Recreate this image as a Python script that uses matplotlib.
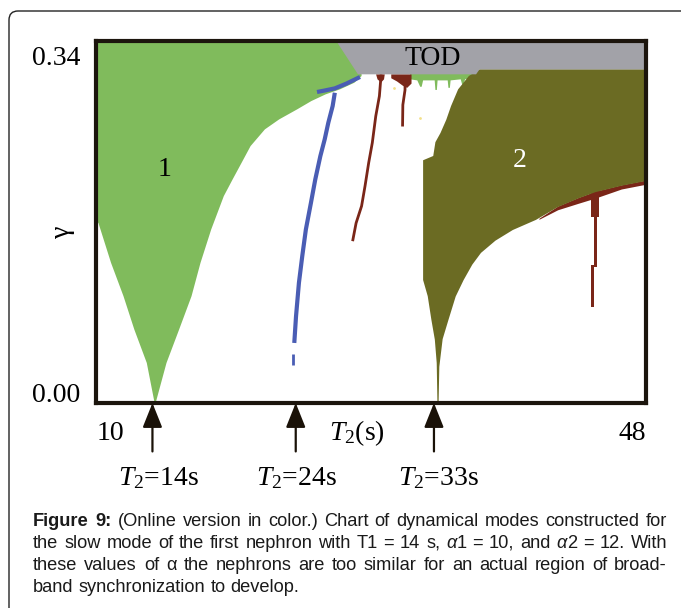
import matplotlib
matplotlib.use('Agg')
import matplotlib.pyplot as plt
from matplotlib.patches import FancyBboxPatch
from matplotlib.transforms import IdentityTransform

plt.rcParams['mathtext.fontset'] = 'custom'
plt.rcParams['mathtext.rm'] = 'Liberation Serif'
plt.rcParams['mathtext.it'] = 'Liberation Serif:italic'

# ---------------- data (T2 in s, gamma) ----------------
x_range = [10, 48]
y_range = [0.0, 0.34]

# region 1 (green)
green_left_T = [10.0, 10.0, 10.17, 11.04, 11.9, 12.65, 13.51, 14.05]
green_left_g = [0.34, 0.171, 0.169, 0.1316, 0.1003, 0.0689, 0.0376, 0.0]
green_right_T = [14.12, 14.87, 15.74, 16.6, 17.22, 17.96, 18.83, 19.44, 20.06,
                 20.68, 21.67, 22.66, 23.9, 24.88, 25.87, 26.86, 27.85, 28.35]
green_right_g = [0.0, 0.0376, 0.0689, 0.1003, 0.1316, 0.163, 0.1943, 0.21, 0.2256,
                 0.2413, 0.257, 0.2664, 0.2758, 0.2836, 0.2899, 0.2946, 0.3008, 0.3071]

# thin green strip under TOD
strip_T = [31.7, 31.7, 32.2, 32.4, 32.5, 32.6, 33.4, 33.45, 33.55, 33.6, 34.3, 34.35,
           34.45, 34.5, 35.2, 35.3, 35.4, 35.5, 36.3, 36.3]
strip_g = [0.312, 0.304, 0.303, 0.297, 0.297, 0.303, 0.303, 0.294, 0.294, 0.303, 0.303,
           0.296, 0.296, 0.303, 0.304, 0.299, 0.299, 0.304, 0.306, 0.312]

# TOD (gray)
tod_T = [26.6, 28.1, 36.26, 36.5, 48.0, 48.0]
tod_g = [0.34, 0.3087, 0.3087, 0.3134, 0.3134, 0.34]

# region 2 (olive)
olive_left_T = [36.5, 35.76, 35.02, 34.53, 34.2, 33.8, 33.45, 33.3, 32.6, 32.6,
                32.92, 33.17, 33.41, 33.54, 33.59]
olive_left_g = [0.3134, 0.3071, 0.2946, 0.2789, 0.266, 0.2536, 0.245, 0.232, 0.228,
                0.1155, 0.1003, 0.0783, 0.0595, 0.0376, 0.0]
olive_low_T = [33.67, 33.72, 33.95, 34.35, 34.85, 35.4, 36.0, 36.6, 37.6, 38.8,
               40.4, 41.9, 43.3, 44.5, 46.3, 48.0]
olive_low_g = [0.0, 0.034, 0.06, 0.078, 0.1, 0.1155, 0.13, 0.141, 0.1525, 0.1625,
               0.172, 0.184, 0.192, 0.198, 0.204, 0.2085]

# brown band under region 2 and its drip
band_T = [40.6, 41.9, 43.3, 44.5, 46.3, 48.0]
band_upper = [0.1735, 0.185, 0.193, 0.199, 0.205, 0.2095]
band_lower = [0.1725, 0.1815, 0.1875, 0.1925, 0.2010, 0.2055]
drip_g_lo = [0.175, 0.128, 0.090]
drip_g_hi = [0.199, 0.176, 0.130]
drip_T_lo = [44.2, 44.38, 44.22]
drip_T_hi = [44.75, 44.62, 44.42]

# blue line
blue_T = [23.7, 23.82, 24.02, 24.25, 24.5, 24.85, 25.15, 25.5, 25.8, 26.05, 26.35, 26.5]
blue_g = [0.0564, 0.0815, 0.1128, 0.1379, 0.163, 0.188, 0.21, 0.2319, 0.2476,
          0.2632, 0.2789, 0.2914]
blue_hook_T = [25.27, 25.8, 26.5, 27.3, 28.24]
blue_hook_g = [0.2921, 0.2935, 0.2955, 0.300, 0.3062]
blue_seg_T = [23.62, 23.62]
blue_seg_g = [0.036, 0.046]

# brown lines
brown1_T = [27.73, 27.97, 28.35, 28.59, 28.84, 29.09, 29.33, 29.58, 29.7]
brown1_g = [0.152, 0.169, 0.185, 0.204, 0.2256, 0.2444, 0.2695, 0.2883, 0.3087]
blob1_T = [29.35, 29.95, 29.9, 29.7, 29.45]
blob1_g = [0.3087, 0.3087, 0.304, 0.301, 0.304]
brown2_T = [31.18, 31.2, 31.35, 31.35]
brown2_g = [0.2597, 0.28, 0.294, 0.30]
blob2_T = [30.4, 31.8, 31.8, 31.5, 31.2, 30.8, 30.4]
blob2_g = [0.3087, 0.3087, 0.300, 0.296, 0.298, 0.302, 0.305]

yellow_T = [30.56, 32.4]
yellow_g = [0.296, 0.268]

arrow_T = [13.9, 23.8, 33.35]
arrow_labels = [r'$T_2$=14s', r'$T_2$=24s', r'$T_2$=33s']
arrow_label_px = [158, 296, 438]

region_labels = [('1', 14.75, 0.219, 'black'), ('2', 39.3, 0.228, 'white'),
                 ('TOD', 33.3, 0.324, 'black')]

# caption: each word is a list of (text, weight, style) pieces
N = 'normal'
caption_lines = [
    [[("Figure", 'bold', N)], [("9:", 'bold', N)]] +
    [[(w, N, N)] for w in "(Online version in color.) Chart of dynamical modes constructed for".split()],
    [[(w, N, N)] for w in "the slow mode of the first nephron with T1 = 14 s,".split()] +
    [[("α", N, 'italic'), ("1", N, N)]] +
    [[(w, N, N)] for w in "= 10, and".split()] +
    [[("α", N, 'italic'), ("2", N, N)]] +
    [[(w, N, N)] for w in "= 12. With".split()],
    [[(w, N, N)] for w in "these values of α the nephrons are too similar for an actual region of broad-".split()],
    [[(w, N, N)] for w in "band synchronization to develop.".split()],
]

# ---------------- colours ----------------
C_GREEN = '#80bb5c'
C_GRAY = '#a2a2a8'
C_OLIVE = '#6b6b23'
C_BLUE = '#4a5db4'
C_BROWN = '#7a2618'
C_EDGE = '#1c150d'

W, H = 681, 608
fig = plt.figure(figsize=(W / 100, H / 100), dpi=100)
fig.patch.set_facecolor('white')


def fx(px):
    return px / W


def fy(py):
    return 1 - py / H


ax = fig.add_axes([fx(96), fy(403), 550 / W, 362 / H])
ax.set_xlim(*x_range)
ax.set_ylim(*y_range)
ax.set_xticks([])
ax.set_yticks([])
for s in ax.spines.values():
    s.set_linewidth(3)
    s.set_color(C_EDGE)
    s.set_zorder(10)

# region 1
ax.fill(green_left_T + green_right_T + [28.35, 10.0],
        green_left_g + green_right_g + [0.34, 0.34], color=C_GREEN, lw=0, zorder=1)
ax.fill(strip_T, strip_g, color=C_GREEN, lw=0, zorder=1)

# lines
ax.plot(blue_T, blue_g, color=C_BLUE, lw=3, solid_capstyle='butt', zorder=2)
ax.plot(blue_hook_T, blue_hook_g, color=C_BLUE, lw=3, solid_capstyle='butt', zorder=2)
ax.plot(blue_seg_T, blue_seg_g, color=C_BLUE, lw=2, solid_capstyle='butt', zorder=2)
ax.plot(brown1_T, brown1_g, color=C_BROWN, lw=2, solid_capstyle='butt', zorder=2)
ax.fill(blob1_T, blob1_g, color=C_BROWN, lw=0, zorder=2)
ax.plot(brown2_T, brown2_g, color=C_BROWN, lw=2, solid_capstyle='butt', zorder=2)
ax.fill(blob2_T, blob2_g, color=C_BROWN, lw=0, zorder=2)
ax.scatter(yellow_T, yellow_g, s=4, color='#f3e08a', lw=0, zorder=2)

# region 2
ax.fill_between(band_T, band_lower, band_upper, color=C_BROWN, lw=0, zorder=3)
for lo, hi, t0, t1 in zip(drip_g_lo, drip_g_hi, drip_T_lo, drip_T_hi):
    ax.fill_betweenx([lo, hi], [t0, t0], [t1, t1], color=C_BROWN, lw=0, zorder=3)
ax.fill(olive_left_T + olive_low_T + [48.0],
        olive_left_g + olive_low_g + [0.3134], color=C_OLIVE, lw=0, zorder=4)

# TOD
ax.fill(tod_T, tod_g, color=C_GRAY, lw=0, zorder=5)

serif = 'Liberation Serif'
for txt, t, g, c in region_labels:
    ax.text(t, g, txt, color=c, fontsize=20, family=serif, ha='center', va='center', zorder=6)

# arrows
for t in arrow_T:
    ax.annotate('', xy=(t, 0.0), xytext=(t, -0.0455), xycoords='data',
                arrowprops=dict(arrowstyle='-|>,head_length=0.75,head_width=0.3',
                                mutation_scale=20, lw=1.6, color='#1a1208',
                                shrinkA=0, shrinkB=0),
                annotation_clip=False)
for lab, px in zip(arrow_labels, arrow_label_px):
    fig.text(fx(px), fy(485), lab, ha='center', va='baseline', fontsize=20, family=serif)

# axis texts
fig.text(fx(56), fy(65), '0.34', ha='center', va='baseline', fontsize=20, family=serif)
fig.text(fx(56), fy(402), '0.00', ha='center', va='baseline', fontsize=20, family=serif)
fig.text(fx(62), fy(232), 'γ', ha='center', va='center', rotation=90, fontsize=20, family=serif)
fig.text(fx(110), fy(440), '10', ha='center', va='baseline', fontsize=20, family=serif)
fig.text(fx(632), fy(440), '48', ha='center', va='baseline', fontsize=20, family=serif)
fig.text(fx(357), fy(440), r'$T_2$(s)', ha='center', va='baseline', fontsize=20, family=serif)

# outer frame (rounded, open to right / bottom)
frame = FancyBboxPatch((9, -30), 740, H - 11 + 30,
                       boxstyle='round,pad=0,rounding_size=9',
                       transform=IdentityTransform(), fill=False, lw=1.0, ec='#222222')
fig.add_artist(frame)

# caption, justified
renderer = fig.canvas.get_renderer()
cap_left, cap_right = 33, 667
cap_base = [526, 548, 570, 592]
sans = 'Liberation Sans'


def piece_width(txt, wt, st, fs):
    t = fig.text(0, 0, txt, fontsize=fs, family=sans, weight=wt, style=st)
    w = t.get_window_extent(renderer).width
    t.remove()
    return w


def word_width(word, fs):
    return sum(piece_width(p, wt, st, fs) for p, wt, st in word)


fs0 = 12.0
space0 = 0.278 * fs0 * 100 / 72
w0 = [word_width(w, fs0) for w in caption_lines[0]]
natural = sum(w0) + space0 * (len(w0) - 1)
fs = fs0 * (cap_right - cap_left) / natural * 0.985
space = 0.278 * fs * 100 / 72

for i, (words, base) in enumerate(zip(caption_lines, cap_base)):
    ws = [word_width(w, fs) for w in words]
    last = i == len(caption_lines) - 1
    if last or len(words) < 2:
        gap = space
    else:
        gap = (cap_right - cap_left - sum(ws)) / (len(ws) - 1)
    x = cap_left
    for word, wd in zip(words, ws):
        xp = x
        for p, wt, st in word:
            fig.text(fx(xp), fy(base), p, fontsize=fs, family=sans, weight=wt, style=st,
                     ha='left', va='baseline', color='#1a1a1a')
            xp += piece_width(p, wt, st, fs)
        x += wd + gap

fig.savefig('out.png', dpi=100)
